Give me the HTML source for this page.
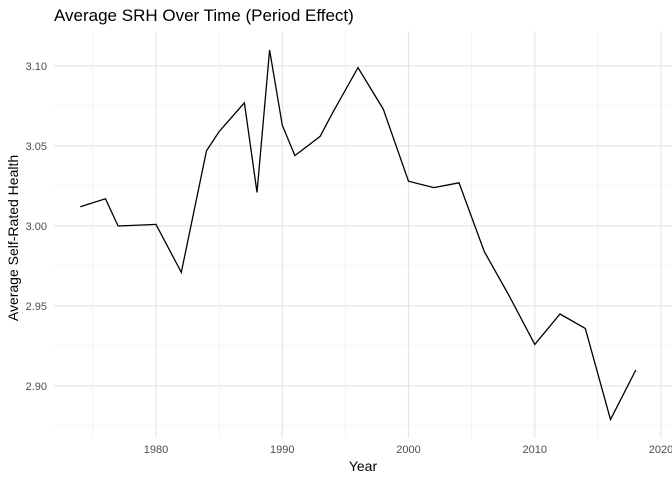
<!DOCTYPE html>
<html><head><meta charset="utf-8"><style>
body{margin:0;background:#fff;}
svg text{font-family:"Liberation Sans",sans-serif;}
</style></head><body>
<svg id="chart" width="672" height="480">
<rect width="672" height="480" fill="#fff"/>
<text x="54" y="21" font-size="17" fill="#000">Average SRH Over Time (Period Effect)</text>
<g id="grid"></g>
<g id="axes"></g>
<path id="line" fill="none" stroke="#000" stroke-width="1.3"/>
<text x="363" y="471" font-size="14" text-anchor="middle" fill="#000">Year</text>
<text transform="translate(18,238) rotate(-90)" font-size="14" text-anchor="middle" fill="#000">Average Self-Rated Health</text>
</svg>
<script>
const years=[1974,1976,1977,1980,1982,1984,1985,1987,1988,1989,1990,1991,1993,1994,1996,1998,2000,2002,2004,2006,2008,2010,2012,2014,2016,2018];
const srh=[3.012,3.017,3.000,3.001,2.971,3.047,3.059,3.077,3.021,3.110,3.063,3.044,3.056,3.071,3.099,3.073,3.028,3.024,3.027,2.984,2.956,2.926,2.945,2.936,2.879,2.910];
const xTicks=[1980,1990,2000,2010,2020];
const xMinor=[1975,1985,1995,2005,2015];
const yTicks=[2.90,2.95,3.00,3.05,3.10];
const yMinor=[2.875,2.925,2.975,3.025,3.075];
const X=v=>156+(v-1980)*12.625;
const Y=v=>226-(v-3.0)*1600;
const NS='http://www.w3.org/2000/svg';
const grid=document.getElementById('grid'),axes=document.getElementById('axes');
function ln(x1,y1,x2,y2,w,c){const l=document.createElementNS(NS,'line');l.setAttribute('x1',x1);l.setAttribute('y1',y1);l.setAttribute('x2',x2);l.setAttribute('y2',y2);l.setAttribute('stroke',c);l.setAttribute('stroke-width',w);grid.appendChild(l);return l;}
const L=54,R=672,T=31,B=438;
yMinor.forEach(v=>{const l=ln(L,Y(v),R,Y(v),0.6,'#ebebeb');

});
xMinor.forEach(v=>{const l=ln(X(v),T,X(v),B,0.6,'#ebebeb');

});
yTicks.forEach(v=>{const l=ln(L,Y(v),R,Y(v),1.2,'#e5e5e5');


const t=document.createElementNS(NS,'text');t.setAttribute('x',47);t.setAttribute('y',Y(v)+4);t.setAttribute('text-anchor','end');t.setAttribute('font-size','11');t.setAttribute('fill','#4d4d4d');t.textContent=v.toFixed(2);


axes.appendChild(t);});
xTicks.forEach(v=>{const l=ln(X(v),T,X(v),B,1.2,'#e5e5e5');


const t=document.createElementNS(NS,'text');t.setAttribute('x',X(v));t.setAttribute('y',453);t.setAttribute('text-anchor','middle');t.setAttribute('font-size','11');t.setAttribute('fill','#4d4d4d');t.textContent=v;


axes.appendChild(t);});
document.getElementById('line').setAttribute('d',years.map((y,i)=>(i?'L':'M')+X(y).toFixed(1)+','+Y(srh[i]).toFixed(1)).join(''));
</script>
</body></html>
